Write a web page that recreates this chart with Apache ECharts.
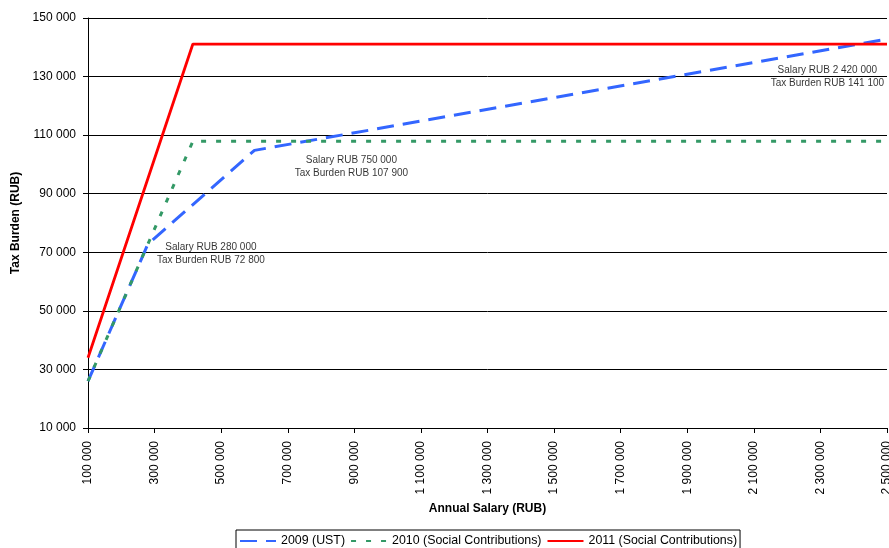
<!DOCTYPE html>
<html>
<head>
<meta charset="utf-8">
<title>Tax Burden</title>
<script src="https://cdn.jsdelivr.net/npm/echarts@6/dist/echarts.min.js"></script>
<style>
html,body{margin:0;padding:0;background:#fff;}
#taxChart{width:889px;height:548px;}
</style>
</head>
<body>
<div id="taxChart"></div>
<script>
// axis tick values
var xTicks = [100000,300000,500000,700000,900000,1100000,1300000,1500000,1700000,1900000,2100000,2300000,2500000];
var yTicks = [10000,30000,50000,70000,90000,110000,130000,150000];

// 2009 (UST)
var salary2009 = [100000,280000,600000,2500000];
var tax2009 = [26000,72800,104800,142800];

// 2010 (Social Contributions)
var salary2010 = [100000,415000,2500000];
var tax2010 = [26000,107900,107900];

// 2011 (Social Contributions)
var salary2011 = [100000,415000,2500000];
var tax2011 = [34000,141100,141100];

// notes
var noteSalary = [280000,750000,2420000];
var noteTax = [72800,107900,141100];

var seriesNames = ['2009 (UST)','2010 (Social Contributions)','2011 (Social Contributions)'];

var FONT = "'Liberation Sans', Arial, sans-serif";

function fmt(n){
	return String(n).replace(/\B(?=(\d{3})+(?!\d))/g,' ');
}

function pairs(xs,ys){
	var arr = [];
	for(var i=0;i<xs.length;i++){
		arr.push([xs[i],ys[i]]);
	}
	return arr;
}

//文字偏移
var noteOffsets = [[63,10],[47,25],[-33,33]];

function noteData(){
	var arr = [];
	for(var i=0;i<noteSalary.length;i++){
		arr.push({
			value:[noteSalary[i],noteTax[i]],
			label:{offset:noteOffsets[i]}
		});
	}
	return arr;
}

var myChart = echarts.init(document.getElementById('taxChart'));
var option = {
	animation:false,
	textStyle:{fontFamily:FONT},
	grid:{left:88,right:2,top:18,bottom:120,containLabel:false,outerBoundsMode:'none'},
	legend:{
		data:seriesNames,
		left:236,
		top:530,
		itemWidth:36,
		itemHeight:12,
		itemGap:5,
		padding:[5,3,6,3],
		borderColor:'#000',
		borderWidth:1,
		itemStyle:{opacity:0},
		textStyle:{fontFamily:FONT,fontSize:12.4,color:'#000'}
	},
	xAxis:{
		type:'value',
		min:100000,
		max:2500000,
		name:'Annual Salary (RUB)',
		nameLocation:'middle',
		nameGap:75,
		nameTextStyle:{fontFamily:FONT,fontSize:12,fontWeight:'bold',color:'#000'},
		axisLine:{show:true,lineStyle:{color:'#000',width:1}},
		axisTick:{show:true,length:5,lineStyle:{color:'#000'},customValues:xTicks},
		axisLabel:{rotate:90,margin:13,fontSize:12,color:'#000',fontFamily:FONT,customValues:xTicks,
			formatter:function(v){return fmt(v);}},
		splitLine:{show:false}
	},
	yAxis:{
		type:'value',
		min:10000,
		max:150000,
		name:'Tax Burden (RUB)',
		nameLocation:'middle',
		nameGap:61,
		nameTextStyle:{fontFamily:FONT,fontSize:12,fontWeight:'bold',color:'#000'},
		axisLine:{show:true,lineStyle:{color:'#000',width:1}},
		axisTick:{show:true,length:5,lineStyle:{color:'#000'},customValues:yTicks},
		axisLabel:{margin:12,fontSize:12,color:'#000',fontFamily:FONT,customValues:yTicks,
			formatter:function(v){return fmt(v);}},
		splitLine:{show:true,lineStyle:{color:'#000',width:1}}
	},
	series:[
		{
			name:seriesNames[0],
			type:'line',
			symbol:'none',
			data:pairs(salary2009,tax2009),
			lineStyle:{color:'#3366ff',width:3,type:[17,9]},
			itemStyle:{color:'#3366ff'}
		},
		{
			name:seriesNames[1],
			type:'line',
			symbol:'none',
			data:pairs(salary2010,tax2010),
			lineStyle:{color:'#339966',width:3,type:[5,10]},
			itemStyle:{color:'#339966'}
		},
		{
			name:seriesNames[2],
			type:'line',
			symbol:'none',
			data:pairs(salary2011,tax2011),
			lineStyle:{color:'#ff0000',width:2.8},
			itemStyle:{color:'#ff0000'}
		},
		{
			name:'notes',
			type:'scatter',
			symbolSize:0,
			silent:true,
			data:noteData(),
			label:{
				show:true,
				position:'inside',
				fontFamily:FONT,
				fontSize:10,
				lineHeight:13,
				color:'#000',
				align:'center',
				formatter:function(p){
					return 'Salary RUB ' + fmt(p.value[0]) + '\nTax Burden RUB ' + fmt(p.value[1]);
				}
			}
		}
	]
};
myChart.setOption(option);
</script>
</body>
</html>
